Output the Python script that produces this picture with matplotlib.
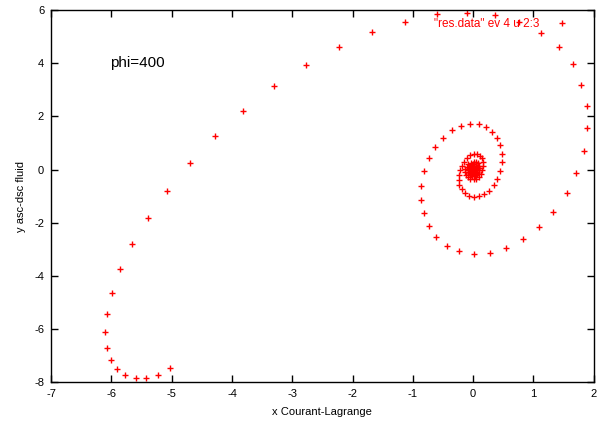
import matplotlib
matplotlib.use("Agg")
import matplotlib.pyplot as plt

plt.rcParams['font.family'] = ['Liberation Sans', 'DejaVu Sans']
plt.rcParams['axes.unicode_minus'] = False

# outer arm: long tail from lower left, over the top, round the right side
x_outer = [-5.02, -5.22, -5.42, -5.60, -5.77, -5.90, -6.01, -6.08, -6.10, -6.07,
           -5.99, -5.85, -5.65, -5.39, -5.07, -4.69, -4.28, -3.81, -3.31, -2.77,
           -2.23, -1.68, -1.13, -0.60, -0.10, 0.36, 0.76, 1.13, 1.43, 1.65,
           1.79, 1.88, 1.89, 1.84, 1.71, 1.55, 1.33, 1.09, 0.82, 0.54]
y_outer = [-7.49, -7.73, -7.85, -7.85, -7.75, -7.52, -7.17, -6.71, -6.12, -5.43,
           -4.64, -3.75, -2.82, -1.82, -0.79, 0.25, 1.26, 2.22, 3.13, 3.93,
           4.62, 5.17, 5.56, 5.84, 5.90, 5.81, 5.55, 5.15, 4.62, 3.96,
           3.20, 2.39, 1.56, 0.69, -0.14, -0.89, -1.58, -2.17, -2.62, -2.95]

# second loop
x_mid = [0.28, 0.01, -0.23, -0.44, -0.61, -0.74, -0.82, -0.86, -0.86, -0.82,
         -0.74, -0.63, -0.50, -0.35, -0.20, -0.06, 0.09, 0.21, 0.31, 0.39,
         0.44, 0.47, 0.47, 0.45, 0.40, 0.34, 0.26, 0.18, 0.09, 0.01,
         -0.07, -0.14, -0.19, -0.23, -0.24, -0.24, -0.22, -0.19, -0.15, -0.10,
         -0.05, 0.01, 0.06, 0.11, 0.14, 0.17, 0.17, 0.15, 0.13, 0.09,
         0.05, 0.01]
y_mid = [-3.13, -3.18, -3.08, -2.87, -2.54, -2.13, -1.65, -1.13, -0.61, -0.07,
         0.42, 0.84, 1.19, 1.47, 1.65, 1.72, 1.71, 1.62, 1.43, 1.19,
         0.92, 0.60, 0.28, -0.05, -0.35, -0.60, -0.79, -0.93, -1.01, -1.03,
         -0.99, -0.89, -0.74, -0.58, -0.40, -0.21, -0.02, 0.15, 0.30, 0.44,
         0.53, 0.58, 0.58, 0.52, 0.42, 0.28, 0.13, -0.03, -0.17, -0.29,
         -0.35, -0.37]

# dense core
x_core = [-0.05, -0.09, -0.12, -0.13, -0.13, -0.11, -0.08, -0.04, 0.01, 0.05,
          0.08, 0.10, 0.10, 0.09, 0.07, 0.04, 0.01, -0.03, -0.06, -0.08,
          -0.08, -0.07, -0.05, -0.02, 0.01, 0.04, 0.05, 0.06, 0.05, 0.03,
          0.01, -0.01, -0.03, -0.04, -0.04, -0.03, -0.01, 0.01, 0.02, 0.03,
          0.02, 0.01, 0.00, -0.01, -0.01, 0.00, 0.005, 0.005,
          -0.06, -0.05, 0.07, 0.06, -0.02, 0.03, 0.00, 0.02, -0.03, 0.04]
y_core = [-0.35, -0.29, -0.20, -0.10, 0.01, 0.11, 0.20, 0.26, 0.29, 0.28,
          0.23, 0.15, 0.06, -0.03, -0.11, -0.17, -0.20, -0.19, -0.15, -0.09,
          -0.02, 0.05, 0.10, 0.14, 0.15, 0.13, 0.08, 0.03, -0.02, -0.07,
          -0.09, -0.09, -0.07, -0.03, 0.01, 0.05, 0.07, 0.07, 0.05, 0.02,
          -0.01, -0.03, -0.03, -0.02, 0.00, 0.01, 0.01, 0.00,
          0.12, -0.14, 0.10, -0.13, -0.25, -0.25, 0.20, 0.22, 0.18, -0.21]

xs = x_outer + x_mid + x_core
ys = y_outer + y_mid + y_core

fig = plt.figure(figsize=(6.01, 4.24), dpi=100)
ax = fig.add_axes([0.085, 0.099, 0.903, 0.877])

ax.plot(xs, ys, linestyle='none', marker='+', color='red', markersize=5,
        markeredgewidth=1.0, label='"res.data" ev 4 u 2:3')

ax.set_xlim(-7, 2)
ax.set_ylim(-8, 6)
ax.set_xticks(range(-7, 3))
ax.set_yticks(range(-8, 7, 2))
ax.tick_params(direction='in', length=5, width=1, top=True, right=True,
               labelsize=8, pad=5)
for s in ax.spines.values():
    s.set_linewidth(1)

ax.set_xlabel('x Courant-Lagrange', fontsize=8, labelpad=6)
ax.set_ylabel('y asc-dsc fluid', fontsize=8, labelpad=6)

ax.text(-6.02, 4.0, 'phi=400', fontsize=11, va='center', ha='left')

leg = ax.legend(loc='upper right', frameon=False, markerfirst=False,
                fontsize=8.5, labelcolor='red', handlelength=2.6,
                handletextpad=0.6, borderaxespad=0.3, borderpad=0.2,
                bbox_to_anchor=(0.981, 0.995))

fig.savefig('out.png', dpi=100)
